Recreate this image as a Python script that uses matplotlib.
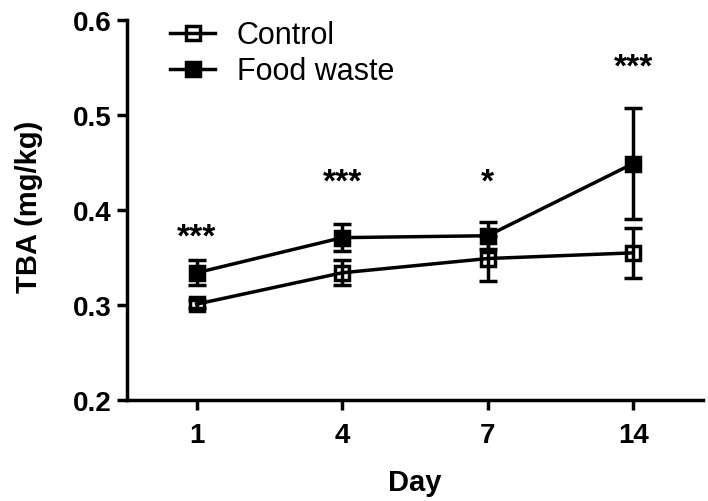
import matplotlib
matplotlib.use("Agg")
import matplotlib.pyplot as plt
from matplotlib.lines import Line2D

days = ["1", "4", "7", "14"]
control = [0.301, 0.334, 0.349, 0.355]
control_err = [0.004, 0.013, 0.024, 0.026]
food_waste = [0.334, 0.371, 0.373, 0.449]
food_waste_err = [0.013, 0.014, 0.014, 0.058]
stars = ["***", "***", "*", "***"]
star_y = [0.372, 0.430, 0.430, 0.551]

plt.rcParams["font.family"] = "Liberation Sans"

x = list(range(len(days)))
lw = 2.5

fig = plt.figure(figsize=(7.08, 5.02), dpi=100)
ax = fig.add_axes([0.179, 0.201, 0.814, 0.757])

ax.errorbar(x, control, yerr=control_err, color="black", lw=lw, marker="s",
            ms=10, mfc="none", mec="black", mew=lw, capsize=6.5, capthick=lw,
            elinewidth=lw)
ax.errorbar(x, food_waste, yerr=food_waste_err, color="black", lw=lw, marker="s",
            ms=10, mfc="black", mec="black", mew=lw, capsize=6.5, capthick=lw,
            elinewidth=lw)

for xi, s, sy in zip(x, stars, star_y):
    ax.text(xi, sy, s, ha="center", va="center", fontsize=24, fontweight="bold")

ax.set_xlim(-0.48, 3.48)
ax.set_ylim(0.2, 0.6)
ax.set_xticks(x)
ax.set_xticklabels(days, fontsize=20, fontweight="bold")
ax.set_yticks([0.2, 0.3, 0.4, 0.5, 0.6])
ax.set_yticklabels(["0.2", "0.3", "0.4", "0.5", "0.6"], fontsize=20, fontweight="bold")

ax.spines["top"].set_visible(False)
ax.spines["right"].set_visible(False)
ax.spines["left"].set_linewidth(lw)
ax.spines["bottom"].set_linewidth(lw)
ax.tick_params(width=lw, length=7, direction="out")
ax.tick_params(axis="x", pad=9)
ax.tick_params(axis="y", pad=4)

ax.set_xlabel("Day", fontsize=21, fontweight="bold")
ax.xaxis.set_label_coords(0.5, -0.178)
ax.set_ylabel("TBA (mg/kg)", fontsize=21, fontweight="bold")
ax.yaxis.set_label_coords(-0.146, 0.51)

handles = [
    Line2D([], [], color="black", lw=lw, marker="s", ms=10, mfc="none", mew=lw),
    Line2D([], [], color="black", lw=lw, marker="s", ms=10, mfc="black", mew=lw),
]
ax.legend(handles, ["Control", "Food waste"], loc="upper left",
          bbox_to_anchor=(0.028, 1.072), frameon=False, fontsize=22,
          handlelength=1.47, handletextpad=0.7, labelspacing=0.2)

fig.savefig("out.png", dpi=100)
